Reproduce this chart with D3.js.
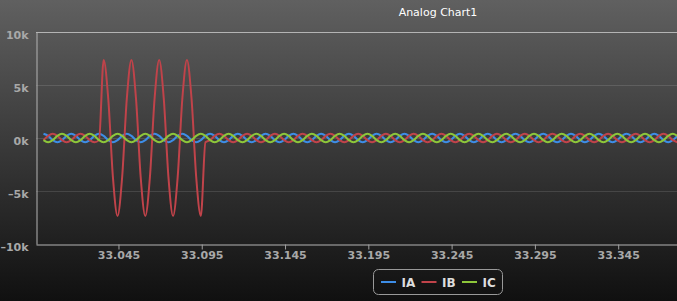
<!DOCTYPE html>
<html>
<head>
<meta charset="utf-8">
<script src="https://cdnjs.cloudflare.com/ajax/libs/d3/7.8.5/d3.min.js"></script>
<style>
    html, body { margin: 0; padding: 0; background: #101010; }
    svg { display: block; font-family: "DejaVu Sans", Verdana, sans-serif; }
</style>
</head>
<body>
<svg id="chart" width="677" height="301"></svg>
<script>
// samples: 6 per cycle at 60 Hz, starting at t = 33.000 s
var sampleStart = 33.000;
var samplesPerSecond = 360;

var seriesNames = ["IA", "IB", "IC"];

var valuesIA = [
    400, 200, -200, -400, -200, 200, 400, 200, -200, -400, -200, 200,
    400, 200, -200, -400, -200, 200, 400, 200, -200, -400, -200, 200,
    400, 200, -200, -400, -200, 200, 400, 200, -200, -400, -200, 200,
    400, 200, -200, -400, -200, 200, 400, 200, -200, -400, -200, 200,
    400, 200, -200, -400, -200, 200, 400, 200, -200, -400, -200, 200,
    400, 200, -200, -400, -200, 200, 400, 200, -200, -400, -200, 200,
    400, 200, -200, -400, -200, 200, 400, 200, -200, -400, -200, 200,
    400, 200, -200, -400, -200, 200, 400, 200, -200, -400, -200, 200,
    400, 200, -200, -400, -200, 200, 400, 200, -200, -400, -200, 200,
    400, 200, -200, -400, -200, 200, 400, 200, -200, -400, -200, 200,
    400, 200, -200, -400, -200, 200, 400, 200, -200, -400, -200, 200,
    400, 200, -200, -400, -200, 200
];

var valuesIB = [
    -200, 200, 400, 200, -200, -400, -200, 200, 400, 200, -200, -400,
    -200, 7350, 3675, -3675, -7350, -3675, 3675, 7350, 3675, -3675, -7350, -3675,
    3675, 7350, 3675, -3675, -7350, -3675, 3675, 7350, 3675, -3675, -7350, -400,
    -200, 200, 400, 200, -200, -400, -200, 200, 400, 200, -200, -400,
    -200, 200, 400, 200, -200, -400, -200, 200, 400, 200, -200, -400,
    -200, 200, 400, 200, -200, -400, -200, 200, 400, 200, -200, -400,
    -200, 200, 400, 200, -200, -400, -200, 200, 400, 200, -200, -400,
    -200, 200, 400, 200, -200, -400, -200, 200, 400, 200, -200, -400,
    -200, 200, 400, 200, -200, -400, -200, 200, 400, 200, -200, -400,
    -200, 200, 400, 200, -200, -400, -200, 200, 400, 200, -200, -400,
    -200, 200, 400, 200, -200, -400, -200, 200, 400, 200, -200, -400,
    -200, 200, 400, 200, -200, -400
];

var valuesIC = [
    -200, -400, -200, 200, 400, 200, -200, -400, -200, 200, 400, 200,
    -200, -400, -200, 200, 400, 200, -200, -400, -200, 200, 400, 200,
    -200, -400, -200, 200, 400, 200, -200, -400, -200, 200, 400, 200,
    -200, -400, -200, 200, 400, 200, -200, -400, -200, 200, 400, 200,
    -200, -400, -200, 200, 400, 200, -200, -400, -200, 200, 400, 200,
    -200, -400, -200, 200, 400, 200, -200, -400, -200, 200, 400, 200,
    -200, -400, -200, 200, 400, 200, -200, -400, -200, 200, 400, 200,
    -200, -400, -200, 200, 400, 200, -200, -400, -200, 200, 400, 200,
    -200, -400, -200, 200, 400, 200, -200, -400, -200, 200, 400, 200,
    -200, -400, -200, 200, 400, 200, -200, -400, -200, 200, 400, 200,
    -200, -400, -200, 200, 400, 200, -200, -400, -200, 200, 400, 200,
    -200, -400, -200, 200, 400, 200
];

var xDomain = [32.9955, 33.3803];
var xTicks = [33.045, 33.095, 33.145, 33.195, 33.245, 33.295, 33.345];
var xTickLabels = ["33.045", "33.095", "33.145", "33.195", "33.245", "33.295", "33.345"];

var yDomain = [-10000, 10000];
var yTicks = [-10000, -5000, 0, 5000, 10000];
var yTickLabels = ["\u201310k", "\u20135k", "0k", "5k", "10k"];

var chartTitle = "Analog Chart1";

var seriesColors = ["#3d8de6", "#c0434a", "#8dc63a"];

var svg = d3.select("#chart"),
    W = +svg.attr("width"),
    H = +svg.attr("height");

var plot = { left: 36, top: 32, right: 677, bottom: 244 };

var defs = svg.append("defs");
var grad = defs.append("linearGradient")
    .attr("id", "bg")
    .attr("x1", 0).attr("y1", 0).attr("x2", 0).attr("y2", 1);
grad.append("stop").attr("offset", "0").attr("stop-color", "rgb(96,96,96)");
grad.append("stop").attr("offset", "1").attr("stop-color", "rgb(16,16,16)");

defs.append("clipPath").attr("id", "plotclip")
    .append("rect")
    .attr("x", plot.left)
    .attr("y", plot.top - 10)
    .attr("width", plot.right - plot.left)
    .attr("height", plot.bottom - plot.top + 20);

svg.append("rect")
    .attr("width", W)
    .attr("height", H)
    .attr("fill", "url(#bg)");

var x = d3.scaleLinear().domain(xDomain).range([plot.left, plot.right]);
var y = d3.scaleLinear().domain(yDomain).range([plot.bottom, plot.top]);

// grid lines
svg.append("g")
    .selectAll("line")
    .data(yTicks.slice(1, -1))
    .enter().append("line")
    .attr("x1", plot.left)
    .attr("x2", plot.right)
    .attr("y1", d => Math.round(y(d)) + 0.5)
    .attr("y2", d => Math.round(y(d)) + 0.5)
    .attr("stroke", "rgba(255,255,255,0.12)");

// top border
svg.append("line")
    .attr("x1", plot.left).attr("x2", plot.right)
    .attr("y1", plot.top + 0.5).attr("y2", plot.top + 0.5)
    .attr("stroke", "#b4b4b4");

// y axis
var yAxis = svg.append("g")
    .attr("transform", "translate(" + (plot.left + 0.5) + ",0)")
    .call(d3.axisLeft(y).tickValues(yTicks)
        .tickFormat(function (d, i) { return yTickLabels[i]; })
        .tickSize(0).tickPadding(8));
yAxis.select(".domain").attr("stroke", "#b4b4b4");
yAxis.selectAll("text")
    .attr("dy", "0.6em")
    .attr("fill", "#a8a8a8")
    .style("font-size", "11px")
    .style("font-weight", "bold")
    .style("font-family", "'DejaVu Sans', Verdana, sans-serif");

// x axis
var xAxis = svg.append("g")
    .attr("transform", "translate(0," + (plot.bottom + 0.5) + ")")
    .call(d3.axisBottom(x).tickValues(xTicks)
        .tickFormat(function (d, i) { return xTickLabels[i]; })
        .tickSizeInner(5).tickSizeOuter(0).tickPadding(2));
xAxis.select(".domain").attr("stroke", "#b4b4b4");
xAxis.selectAll(".tick line").attr("stroke", "#a0a0a0");
xAxis.selectAll("text")
    .attr("fill", "#a8a8a8")
    .style("font-size", "11px")
    .style("font-weight", "bold")
    .style("font-family", "'DejaVu Sans', Verdana, sans-serif");

// series
var seriesValues = [valuesIA, valuesIB, valuesIC];

var line = d3.line()
    .x(function (d, i) { return x(sampleStart + i / samplesPerSecond); })
    .y(function (d) { return y(d); })
    .curve(d3.curveMonotoneX);

svg.append("g")
    .attr("clip-path", "url(#plotclip)")
    .selectAll("path")
    .data(seriesValues)
    .enter().append("path")
    .attr("d", function (d) { return line(d); })
    .attr("fill", "none")
    .attr("stroke", function (d, i) { return seriesColors[i]; })
    .attr("stroke-width", 2)
    .attr("stroke-linejoin", "round");

// title
svg.append("text")
    .attr("x", 438)
    .attr("y", 16)
    .attr("text-anchor", "middle")
    .attr("fill", "#ffffff")
    .style("font-size", "11px")
    .text(chartTitle);

// legend
var legend = svg.append("g");
legend.append("rect")
    .attr("x", 373.5).attr("y", 269.5)
    .attr("width", 129).attr("height", 25)
    .attr("rx", 5).attr("ry", 5)
    .attr("fill", "none")
    .attr("stroke", "#999");

var legendItem = legend.selectAll(".legendItem")
    .data(seriesNames)
    .enter().append("g")
    .attr("class", "legendItem")
    .attr("transform", function (d, i) { return "translate(" + (381 + i * 40.5) + ",282)"; });

legendItem.append("line")
    .attr("x1", 0).attr("x2", 15)
    .attr("stroke", function (d, i) { return seriesColors[i]; })
    .attr("stroke-width", 2);

legendItem.append("text")
    .attr("x", 20.5)
    .attr("y", 5)
    .attr("fill", "#dddddd")
    .style("font-size", "12px")
    .style("font-weight", "bold")
    .text(function (d) { return d; });
</script>
</body>
</html>
